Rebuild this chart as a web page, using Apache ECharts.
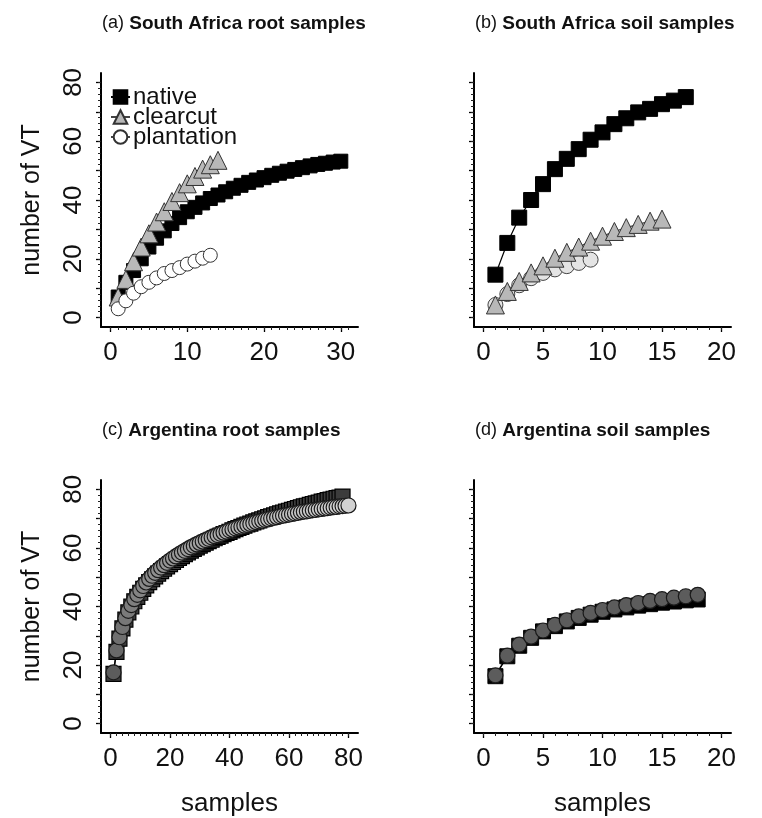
<!DOCTYPE html>
<html>
<head>
<meta charset="utf-8">
<script src="https://cdn.jsdelivr.net/npm/echarts@6/dist/echarts.min.js"></script>
<style>
html,body{margin:0;padding:0;background:#ffffff;}
#chart{width:762px;height:818px;}
</style>
</head>
<body>
<div id="chart"></div>
<script>
// ---------- data (number of VT per cumulative sample) ----------
const saRootNative = [7, 12, 16, 20, 24, 27, 29.5, 32, 34, 36, 37.5, 39, 40.5, 41.7, 42.8, 44, 45, 46, 46.8, 47.6, 48.4, 49.1, 49.8, 50.4, 51, 51.6, 52.1, 52.5, 52.9, 53.2];
const saRootClearcut = [7, 13, 19, 24, 28.5, 32.5, 36, 39.5, 42.5, 45.5, 48, 50.5, 52, 53.5];
const saRootPlantation = [3, 5.7, 8.3, 10.5, 12, 13.5, 15, 16, 17, 18.2, 19.2, 20.2, 21.2];

const saSoilNative = [14.6, 25.4, 34, 40, 45.4, 50.5, 54, 57.3, 60.5, 63, 65.8, 67.8, 69.8, 71, 72.6, 73.8, 75];
const saSoilClearcut = [4.3, 8.9, 12.3, 15.2, 17.6, 20.2, 22.2, 24, 26, 27.7, 29.3, 30.6, 31.7, 32.8, 33.5];
const saSoilPlantation = [4.3, 8, 11, 13.4, 15.2, 16.4, 17.5, 18.6, 19.7];

const arRootNative = [17, 24.5, 29, 32.5, 35.5, 38, 40, 41.8, 43.3, 44.7, 46, 47.2, 48.3, 49.3, 50.3, 51.2, 52.1, 52.9, 53.7, 54.5,
  55.2, 55.9, 56.6, 57.2, 57.9, 58.5, 59.1, 59.7, 60.2, 60.8, 61.3, 61.8, 62.3, 62.8, 63.3, 63.8, 64.2, 64.7, 65.1, 65.5,
  66, 66.4, 66.8, 67.2, 67.6, 68, 68.3, 68.7, 69.1, 69.4, 69.8, 70.1, 70.5, 70.8, 71.1, 71.5, 71.8, 72.1, 72.4, 72.7,
  73, 73.3, 73.6, 73.9, 74.2, 74.4, 74.7, 75, 75.2, 75.5, 75.8, 76, 76.3, 76.5, 76.8, 77, 77.2, 77.5];
const arRootPlantation = [17.5, 25, 29.5, 33, 36, 38.5, 40.5, 42.5, 44, 45.5, 47, 48.2, 49.4, 50.5, 51.5, 52.4, 53.3, 54.1, 54.9, 55.7,
  56.4, 57.1, 57.8, 58.4, 59, 59.6, 60.2, 60.7, 61.2, 61.7, 62.2, 62.7, 63.1, 63.6, 64, 64.4, 64.8, 65.2, 65.6, 66,
  66.3, 66.7, 67, 67.3, 67.6, 67.9, 68.2, 68.5, 68.8, 69.1, 69.3, 69.6, 69.8, 70.1, 70.3, 70.5, 70.8, 71, 71.2, 71.4,
  71.6, 71.8, 72, 72.2, 72.4, 72.5, 72.7, 72.9, 73, 73.2, 73.3, 73.5, 73.6, 73.8, 73.9, 74, 74.2, 74.3, 74.4, 74.5];

const arSoilNative = [16.2, 23, 26.6, 29.3, 31.5, 33.3, 34.9, 36.1, 37.2, 38.2, 39, 39.7, 40.3, 40.8, 41.3, 41.7, 42.1, 42.4];
const arSoilPlantation = [16.5, 23.2, 27, 29.7, 31.8, 33.7, 35.3, 36.6, 37.8, 38.8, 39.7, 40.5, 41.2, 41.9, 42.5, 43, 43.5, 44];

// tick labels
const xTickLabelsA = [0, 10, 20, 30];
const xTickLabelsB = [0, 5, 10, 15, 20];
const xTickLabelsC = [0, 20, 40, 60, 80];
const yTickLabels = [0, 20, 40, 60, 80];

const panelTitles = [
  ['(a)', 'South Africa root samples'],
  ['(b)', 'South Africa soil samples'],
  ['(c)', 'Argentina root samples'],
  ['(d)', 'Argentina soil samples']
];
const legendNames = ['native', 'clearcut', 'plantation'];

// ---------- layout ----------
const SANS = "'Liberation Sans',Arial,sans-serif";
const panels = [
  {left: 101, top: 73, width: 257, height: 254, xmin: -1.24, xmax: 32.24, xTicks: xTickLabelsA, xMinor: 1, xMax: 31, yLab: true, xName: false},
  {left: 474, top: 73, width: 257, height: 254, xmin: -0.8, xmax: 20.8, xTicks: xTickLabelsB, xMinor: 1, xMax: 20, yLab: false, xName: false},
  {left: 101, top: 480, width: 257, height: 253, xmin: -3.2, xmax: 83.2, xTicks: xTickLabelsC, xMinor: 2, xMax: 80, yLab: true, xName: true},
  {left: 474, top: 480, width: 257, height: 253, xmin: -0.8, xmax: 20.8, xTicks: xTickLabelsB, xMinor: 1, xMax: 20, yLab: false, xName: true}
];

function range(from, to, step) { const r = []; for (let v = from; v <= to + 1e-9; v += step) r.push(+v.toFixed(4)); return r; }
const yMajorTicks = range(0, 80, 10);
const yMinorTicks = range(0, 80, 2);

const grids = [], xAxes = [], yAxes = [], titles = [];
panels.forEach((p, i) => {
  grids.push({left: p.left, top: p.top, width: p.width, height: p.height, containLabel: false});
  titles.push({
    left: p.left - 4, top: p.top - 64,
    text: '{p|' + panelTitles[i][0] + '}{t| ' + panelTitles[i][1] + '}',
    textStyle: {rich: {
      p: {fontSize: 18, fontFamily: SANS, fontWeight: 'normal', color: '#111'},
      t: {fontSize: 19, fontFamily: SANS, fontWeight: 'bold', color: '#111'}
    }}
  });
  // main x axis
  xAxes.push({
    type: 'value', gridIndex: i, position: 'bottom', min: p.xmin, max: p.xmax,
    axisLine: {show: true, onZero: false, lineStyle: {color: '#000', width: 2}},
    axisTick: {show: true, customValues: p.xTicks, length: 5, lineStyle: {color: '#000', width: 1.3}},
    axisLabel: {show: true, customValues: p.xTicks, fontSize: 26, fontFamily: SANS, color: '#111', margin: 13},
    splitLine: {show: false},
    name: p.xName ? 'samples' : '', nameLocation: 'middle', nameGap: 58,
    nameTextStyle: {fontSize: 26, fontFamily: SANS, color: '#111'}
  });
  // minor x ticks
  xAxes.push({
    type: 'value', gridIndex: i, position: 'bottom', min: p.xmin, max: p.xmax,
    axisLine: {show: false, onZero: false},
    axisTick: {show: true, customValues: range(0, p.xMax, p.xMinor), length: 3, lineStyle: {color: '#222', width: 1}},
    axisLabel: {show: false}, splitLine: {show: false}
  });
  // main y axis
  yAxes.push({
    type: 'value', gridIndex: i, position: 'left', min: -3.2, max: 83.2,
    axisLine: {show: true, onZero: false, lineStyle: {color: '#000', width: 2}},
    axisTick: {show: true, customValues: yMajorTicks, length: 5, lineStyle: {color: '#000', width: 1.3}},
    axisLabel: {show: p.yLab, customValues: yTickLabels, rotate: 90, fontSize: 26, fontFamily: SANS, color: '#111', margin: 14},
    splitLine: {show: false},
    name: p.yLab ? 'number of VT' : '', nameLocation: 'middle', nameGap: 56,
    nameTextStyle: {fontSize: 25, fontFamily: SANS, color: '#111'}
  });
  // minor y ticks
  yAxes.push({
    type: 'value', gridIndex: i, position: 'left', min: -3.2, max: 83.2,
    axisLine: {show: false, onZero: false},
    axisTick: {show: true, customValues: yMinorTicks, length: 3, lineStyle: {color: '#222', width: 1}},
    axisLabel: {show: false}, splitLine: {show: false}
  });
});

function xy(arr) { return arr.map((v, k) => [k + 1, v]); }

const styles = {
  native: {symbol: 'rect', symbolSize: 14, itemStyle: {color: '#000', borderColor: '#000', borderWidth: 1}, lineStyle: {color: '#000', width: 1.2}},
  clearcut: {symbol: 'triangle', symbolSize: 18, itemStyle: {color: '#b8b8b8', borderColor: '#333', borderWidth: 1}, lineStyle: {color: '#444', width: 1.2}},
  plantation: {symbol: 'circle', symbolSize: 14, itemStyle: {color: '#ffffff', borderColor: '#333', borderWidth: 1}, lineStyle: {color: '#444', width: 1.2}}
};

function mk(name, panel, values, extra) {
  const base = styles[name];
  return Object.assign({
    type: 'line', name: name,
    xAxisIndex: panel * 2, yAxisIndex: panel * 2,
    data: xy(values),
    symbol: base.symbol, symbolSize: base.symbolSize,
    itemStyle: Object.assign({}, base.itemStyle),
    lineStyle: Object.assign({}, base.lineStyle),
    showSymbol: true, showAllSymbol: true, silent: true, animation: false,
    emphasis: {disabled: true}
  }, extra || {});
}

const series = [
  mk('native', 0, saRootNative),
  mk('clearcut', 0, saRootClearcut),
  mk('plantation', 0, saRootPlantation),

  mk('native', 1, saSoilNative, {symbolSize: 15}),
  mk('plantation', 1, saSoilPlantation, {symbolSize: 15, itemStyle: {color: '#e4e4e4', borderColor: '#444', borderWidth: 1}}),
  mk('clearcut', 1, saSoilClearcut),

  mk('native', 2, arRootNative, {symbolSize: 15, itemStyle: {color: '#3c3c3c', borderColor: '#000', borderWidth: 1.2}}),
  mk('plantation', 2, arRootPlantation, {symbolSize: 15, itemStyle: {
    color: function (p) { const t = Math.sqrt(p.dataIndex / (arRootPlantation.length - 1)); const g = Math.round(92 + t * 118); return 'rgb(' + g + ',' + g + ',' + g + ')'; },
    borderColor: '#1a1a1a', borderWidth: 1.2}, lineStyle: {color: '#000', width: 1.2}}),

  mk('native', 3, arSoilNative, {symbolSize: 15, itemStyle: {color: '#000', borderColor: '#000', borderWidth: 1}}),
  mk('plantation', 3, arSoilPlantation, {symbolSize: 15, itemStyle: {color: '#5c5c5c', borderColor: '#1a1a1a', borderWidth: 1.2}, lineStyle: {color: '#000', width: 1.2}})
];

const chart = echarts.init(document.getElementById('chart'), null, {renderer: 'canvas'});
chart.setOption({
  backgroundColor: '#ffffff',
  animation: false,
  title: titles,
  legend: {
    show: true, orient: 'vertical', left: 105, top: 80,
    itemWidth: 19, itemHeight: 17, itemGap: -4,
    data: legendNames, selectedMode: false,
    textStyle: {fontSize: 24, fontFamily: SANS, color: '#111', padding: [0, 0, 0, -2]}
  },
  grid: grids,
  xAxis: xAxes,
  yAxis: yAxes,
  series: series
});
</script>
</body>
</html>
